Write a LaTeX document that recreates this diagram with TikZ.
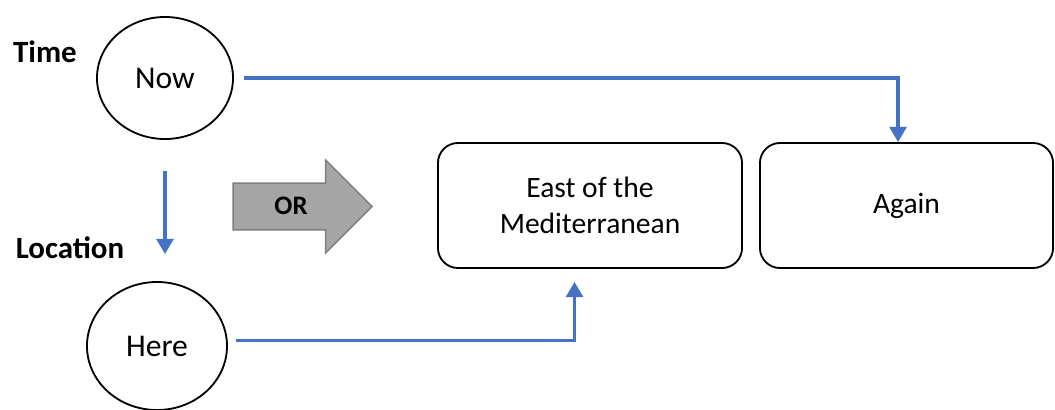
\documentclass[tikz,border=0pt]{standalone}
\usepackage{fontspec}
\setmainfont{Carlito}
\usetikzlibrary{shapes.geometric,shapes.arrows,arrows.meta}
\definecolor{linkblue}{HTML}{4472C4}
\definecolor{orfill}{HTML}{A5A5A5}
\definecolor{oredge}{HTML}{7F7F7F}

\begin{document}
\begin{tikzpicture}[x=0.025cm, y=-0.025cm,
    state/.style={draw, ellipse, inner sep=0pt, line width=1.3pt,
      font=\fontsize{22.5}{26}\selectfont},
    place/.style={draw, rectangle, rounded corners=0.5cm, line width=1.3pt,
      align=center, minimum height=3.125cm, font=\fontsize{21}{25.5}\selectfont},
    tag/.style={font=\fontsize{22}{26}\selectfont\bfseries},
    link/.style={draw=linkblue, line width=2.5pt,
      -{Triangle[width=0.42cm,length=0.38cm]}}]
  \useasboundingbox (0,0) rectangle (1055,409);

  \node[tag](Time) at (45,52) {Time};
  \node[tag](Location) at (70,248) {Location};
  \node[state, minimum width=3.4cm, minimum height=3.05cm](Now) at (165,78) {Now};
  \node[state, minimum width=3.5cm, minimum height=3.2cm](Here) at (157,346) {Here};
  \node[single arrow, draw=oredge, fill=orfill, line width=1pt,
    inner xsep=0pt, inner ysep=10pt, text height=12pt, text depth=0pt,
    minimum height=3.475cm, minimum width=2.325cm,
    single arrow head extend=0.575cm,
    font=\fontsize{19}{22}\selectfont\bfseries](Or) at (291,206.5) {OR};
  \node[place, minimum width=7.6cm](East) at (590,205.5) {East of the\\Mediterranean};
  \node[place, minimum width=7.325cm](Again) at (906.5,205.5) {Again};

  \draw[link, shorten <=0.25cm] (Now.east) -| ([xshift=-6]Again.north);
  \draw[link, shorten <=0.775cm, shorten >=0.675cm] (Now.south) -- (Now.south |- Here.north);
  \draw[link, shorten <=0.2cm, shorten >=0.325cm] ([yshift=4]Here.east) -| ([xshift=-11]East.south);
\end{tikzpicture}
\end{document}
